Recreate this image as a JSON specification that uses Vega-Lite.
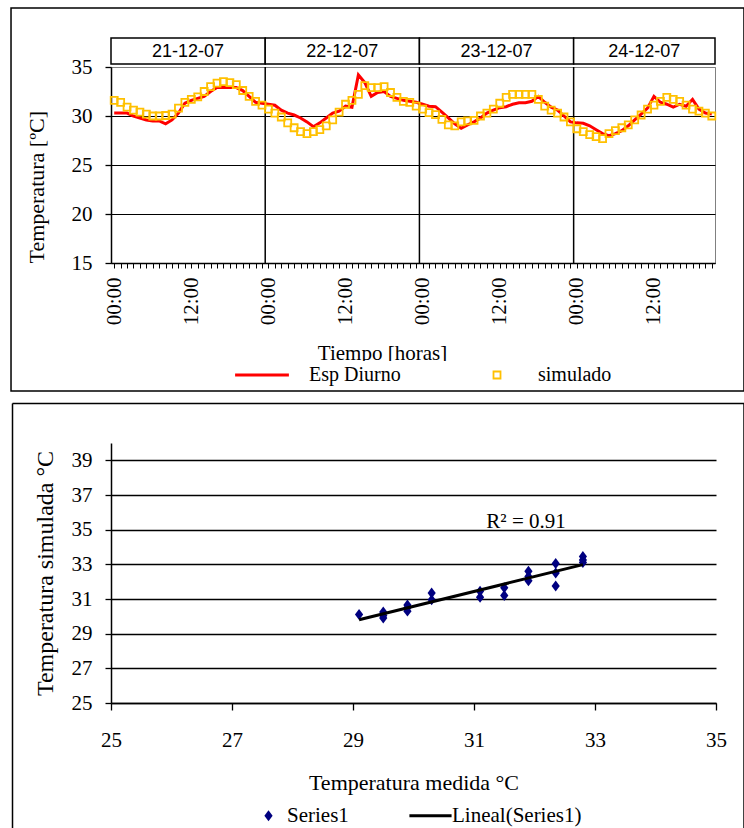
{
  "$schema": "https://vega.github.io/schema/vega-lite/v6.json",
  "padding": {"left": 9, "top": 6, "right": 0, "bottom": 0},
  "background": "white",
  "bounds": "flush",
  "spacing": 180,
  "resolve": {"scale": {"color": "independent", "shape": "independent"}, "legend": {"color": "independent", "shape": "independent"}},
  "datasets": {
    "hourly": [
      {"h":0,"esp":30.3,"simulado":31.6},{"h":1,"esp":30.3,"simulado":31.4},{"h":2,"esp":30.3,"simulado":30.9},{"h":3,"esp":30.0,"simulado":30.6},
      {"h":4,"esp":29.8,"simulado":30.4},{"h":5,"esp":29.6,"simulado":30.2},{"h":6,"esp":29.5,"simulado":30.0},{"h":7,"esp":29.5,"simulado":30.0},
      {"h":8,"esp":29.2,"simulado":30.05},{"h":9,"esp":29.6,"simulado":30.2},{"h":10,"esp":30.3,"simulado":30.8},{"h":11,"esp":31.3,"simulado":31.4},
      {"h":12,"esp":31.6,"simulado":31.7},{"h":13,"esp":31.8,"simulado":31.95},{"h":14,"esp":32.0,"simulado":32.5},{"h":15,"esp":32.5,"simulado":33.0},
      {"h":16,"esp":32.9,"simulado":33.35},{"h":17,"esp":32.9,"simulado":33.5},{"h":18,"esp":32.9,"simulado":33.4},{"h":19,"esp":32.9,"simulado":33.2},
      {"h":20,"esp":32.6,"simulado":32.6},{"h":21,"esp":32.0,"simulado":32.0},{"h":22,"esp":31.4,"simulado":31.5},{"h":23,"esp":31.3,"simulado":31.1},
      {"h":24,"esp":31.2,"simulado":30.7},{"h":25,"esp":31.1,"simulado":30.3},{"h":26,"esp":30.6,"simulado":29.9},{"h":27,"esp":30.3,"simulado":29.3},
      {"h":28,"esp":30.1,"simulado":28.8},{"h":29,"esp":29.8,"simulado":28.4},{"h":30,"esp":29.4,"simulado":28.2},{"h":31,"esp":28.9,"simulado":28.4},
      {"h":32,"esp":29.3,"simulado":28.6},{"h":33,"esp":29.8,"simulado":29.0},{"h":34,"esp":30.3,"simulado":29.6},{"h":35,"esp":30.5,"simulado":30.4},
      {"h":36,"esp":31.0,"simulado":31.2},{"h":37,"esp":30.9,"simulado":31.6},{"h":38,"esp":34.2,"simulado":32.2},{"h":39,"esp":33.4,"simulado":33.1},
      {"h":40,"esp":32.0,"simulado":32.9},{"h":41,"esp":32.4,"simulado":32.9},{"h":42,"esp":32.5,"simulado":33.0},{"h":43,"esp":32.0,"simulado":32.4},
      {"h":44,"esp":31.8,"simulado":31.9},{"h":45,"esp":31.6,"simulado":31.5},{"h":46,"esp":31.5,"simulado":31.4},{"h":47,"esp":31.4,"simulado":31.0},
      {"h":48,"esp":31.2,"simulado":30.7},{"h":49,"esp":31.0,"simulado":30.35},{"h":50,"esp":30.95,"simulado":30.15},{"h":51,"esp":30.4,"simulado":29.65},
      {"h":52,"esp":29.8,"simulado":29.1},{"h":53,"esp":29.2,"simulado":29.0},{"h":54,"esp":28.75,"simulado":29.4},{"h":55,"esp":29.1,"simulado":29.5},
      {"h":56,"esp":29.4,"simulado":29.55},{"h":57,"esp":29.8,"simulado":30.0},{"h":58,"esp":30.3,"simulado":30.3},{"h":59,"esp":30.6,"simulado":30.7},
      {"h":60,"esp":30.85,"simulado":31.3},{"h":61,"esp":30.95,"simulado":31.9},{"h":62,"esp":31.2,"simulado":32.2},{"h":63,"esp":31.35,"simulado":32.2},
      {"h":64,"esp":31.35,"simulado":32.2},{"h":65,"esp":31.5,"simulado":32.2},{"h":66,"esp":32.0,"simulado":31.7},{"h":67,"esp":31.4,"simulado":31.0},
      {"h":68,"esp":30.9,"simulado":30.6},{"h":69,"esp":30.6,"simulado":30.3},{"h":70,"esp":30.0,"simulado":29.9},{"h":71,"esp":29.4,"simulado":29.4},
      {"h":72,"esp":29.3,"simulado":28.7},{"h":73,"esp":29.25,"simulado":28.4},{"h":74,"esp":29.0,"simulado":28.1},{"h":75,"esp":28.6,"simulado":27.9},
      {"h":76,"esp":28.2,"simulado":27.7},{"h":77,"esp":28.0,"simulado":28.2},{"h":78,"esp":28.2,"simulado":28.5},{"h":79,"esp":28.5,"simulado":28.8},
      {"h":80,"esp":29.0,"simulado":29.1},{"h":81,"esp":29.6,"simulado":29.6},{"h":82,"esp":30.2,"simulado":30.1},{"h":83,"esp":30.8,"simulado":30.7},
      {"h":84,"esp":32.0,"simulado":31.1},{"h":85,"esp":31.4,"simulado":31.5},{"h":86,"esp":31.2,"simulado":31.9},{"h":87,"esp":30.9,"simulado":31.7},
      {"h":88,"esp":31.2,"simulado":31.5},{"h":89,"esp":31.0,"simulado":31.1},{"h":90,"esp":31.7,"simulado":30.7},{"h":91,"esp":30.7,"simulado":30.5},
      {"h":92,"esp":30.3,"simulado":30.3},{"h":93,"esp":30.2,"simulado":30.0}
    ],
    "days": [
      {"day":"21-12-07","start":-0.5,"end":23.5,"mid":11.5},
      {"day":"22-12-07","start":23.5,"end":47.5,"mid":35.5},
      {"day":"23-12-07","start":47.5,"end":71.5,"mid":59.5},
      {"day":"24-12-07","start":71.5,"end":93.5,"mid":82.5}
    ],
    "scatter": [
      {"med":29.1,"Series1":30.1},
      {"med":29.5,"Series1":30.25},{"med":29.5,"Series1":29.9},{"med":29.5,"Series1":30.05},
      {"med":29.9,"Series1":30.65},{"med":29.9,"Series1":30.5},{"med":29.9,"Series1":30.3},
      {"med":30.3,"Series1":31.35},{"med":30.3,"Series1":30.95},
      {"med":31.1,"Series1":31.45},{"med":31.1,"Series1":31.1},
      {"med":31.5,"Series1":31.65},{"med":31.5,"Series1":31.2},
      {"med":31.9,"Series1":32.6},{"med":31.9,"Series1":32.3},{"med":31.9,"Series1":32.05},
      {"med":32.35,"Series1":33.05},{"med":32.35,"Series1":32.5},{"med":32.35,"Series1":31.75},
      {"med":32.8,"Series1":33.45},{"med":32.8,"Series1":33.25},{"med":32.8,"Series1":33.1}
    ],
    "one": [{}]
  },
  "vconcat": [
    {
      "width": 604,
      "height": 196,
      "view": {"stroke": "#808080", "strokeWidth": 1},
      "layer": [
        {
          "data": {"name": "one"},
          "mark": {"type": "rect", "filled": false, "stroke": "black", "strokeWidth": 1.5},
          "encoding": {
            "x": {"datum": -16.06, "type": "quantitative", "scale": {"domain": [-0.5, 93.5], "nice": false, "zero": false}},
            "x2": {"datum": 98.01},
            "y": {"datum": 41.02, "type": "quantitative", "scale": {"domain": [15, 35], "nice": false, "zero": false}},
            "y2": {"datum": 1.94}
          }
        },
        {
          "data": {"name": "days"},
          "mark": {"type": "rect", "fill": "white", "stroke": "black", "strokeWidth": 1.5},
          "encoding": {
            "x": {"field": "start", "type": "quantitative"},
            "x2": {"field": "end"},
            "y": {"datum": 35.3, "type": "quantitative"},
            "y2": {"datum": 37.95}
          }
        },
        {
          "data": {"name": "days"},
          "mark": {"type": "text", "font": "Liberation Sans, Arial, DejaVu Sans, sans-serif", "fontSize": 18, "baseline": "middle", "align": "center", "color": "black"},
          "encoding": {
            "x": {"field": "mid", "type": "quantitative"},
            "y": {"datum": 36.5, "type": "quantitative"},
            "text": {"field": "day"}
          }
        },
        {
          "data": {"name": "days"},
          "transform": [{"filter": "datum.start > 0"}],
          "mark": {"type": "rule", "stroke": "black", "strokeWidth": 1.5},
          "encoding": {"x": {"field": "start", "type": "quantitative"}}
        },
        {
          "data": {"name": "hourly"},
          "mark": {"type": "line", "color": "#FF0000", "strokeWidth": 3},
          "encoding": {
            "x": {
              "field": "h", "type": "quantitative",
              "scale": {"domain": [-0.5, 93.5], "nice": false, "zero": false},
              "axis": {
                "title": "Tiempo [horas]",
                "titleX": 271,
                "tickCount": 200,
                "values": [0,1,2,3,4,5,6,7,8,9,10,11,12,13,14,15,16,17,18,19,20,21,22,23,24,25,26,27,28,29,30,31,32,33,34,35,36,37,38,39,40,41,42,43,44,45,46,47,48,49,50,51,52,53,54,55,56,57,58,59,60,61,62,63,64,65,66,67,68,69,70,71,72,73,74,75,76,77,78,79,80,81,82,83,84,85,86,87,88,89,90,91,92,93],
                "labelExpr": "datum.value % 24 == 0 ? '00:00' : (datum.value % 12 == 0 ? '12:00' : '')",
                "labelAngle": 270, "labelAlign": "right", "labelBaseline": "middle",
                "labelFontSize": 21, "labelPadding": 9, "labelOverlap": false, "labelFlush": false,
                "tickSize": 5, "tickWidth": 1, "grid": false,
                "titleFontSize": 21, "titlePadding": 18
              }
            },
            "y": {
              "field": "esp", "type": "quantitative",
              "scale": {"domain": [15, 35], "nice": false, "zero": false},
              "axis": {
                "title": "Temperatura [ºC]",
                "titleAnchor": "start",
                "tickCount": 20,
                "values": [15, 20, 25, 30, 35],
                "grid": true,
                "gridColor": {"condition": {"test": "datum.value == 35", "value": "#808080"}, "value": "black"},
                "gridWidth": 1.2,
                "tickSize": 6, "labelPadding": 13, "labelFontSize": 21,
                "titleFontSize": 22, "titlePadding": 23
              }
            }
          }
        },
        {
          "data": {"name": "hourly"},
          "transform": [{"fold": ["simulado"], "as": ["serie", "t"]}],
          "mark": {"type": "point", "filled": false, "size": 64, "strokeWidth": 1.8, "opacity": 1},
          "encoding": {
            "x": {"field": "h", "type": "quantitative"},
            "y": {"field": "t", "type": "quantitative"},
            "color": {
              "field": "serie", "type": "nominal",
              "scale": {"domain": ["Esp Diurno", "simulado"], "range": ["#FF0000", "#FFC000"]},
              "legend": {"title": null, "orient": "none", "legendX": 111, "legendY": 294, "direction": "horizontal", "columns": 2, "symbolSize": 64, "symbolOffset": 32, "labelOffset": 31, "columnPadding": 54, "labelFontSize": 20, "labelLimit": 0, "fillColor": "white", "padding": 4, "symbolStrokeWidth": 1.8}
            },
            "shape": {
              "field": "serie", "type": "nominal",
              "scale": {"domain": ["Esp Diurno", "simulado"], "range": ["M-8,-0.15H5V0.15H-8Z", "M-0.875,-0.875H0.875V0.875H-0.875Z"]},
              "legend": {"title": null, "orient": "none", "legendX": 111, "legendY": 294, "direction": "horizontal", "columns": 2, "symbolSize": 64, "symbolOffset": 32, "labelOffset": 31, "columnPadding": 54, "labelFontSize": 20, "labelLimit": 0, "fillColor": "white", "padding": 4, "symbolStrokeWidth": 1.8}
            }
          }
        }
      ]
    },
    {
      "width": 605,
      "height": 260,
      "layer": [
        {
          "data": {"name": "one"},
          "mark": {"type": "rule", "stroke": "black", "strokeWidth": 1.5},
          "encoding": {
            "x": {"datum": 23.372, "type": "quantitative", "scale": {"domain": [25, 35], "nice": false, "zero": false}},
            "y": {"datum": 42.28, "type": "quantitative", "scale": {"domain": [25, 40], "nice": false, "zero": false}},
            "y2": {"datum": 17.79}
          }
        },
        {
          "data": {"name": "one"},
          "mark": {"type": "rule", "stroke": "black", "strokeWidth": 1.5},
          "encoding": {
            "x": {"datum": 35.463, "type": "quantitative"},
            "y": {"datum": 42.28, "type": "quantitative"},
            "y2": {"datum": 17.79}
          }
        },
        {
          "data": {"name": "one"},
          "mark": {"type": "rule", "stroke": "black", "strokeWidth": 1.5},
          "encoding": {
            "x": {"datum": 23.372, "type": "quantitative"},
            "x2": {"datum": 35.463},
            "y": {"datum": 42.28, "type": "quantitative"}
          }
        },
        {
          "data": {"name": "scatter"},
          "transform": [{"fold": ["Series1"], "as": ["serie", "sim"]}],
          "mark": {"type": "point", "filled": true, "size": 120, "opacity": 1, "strokeWidth": 0},
          "encoding": {
            "x": {
              "field": "med", "type": "quantitative",
              "scale": {"domain": [25, 35], "nice": false, "zero": false},
              "axis": {
                "title": "Temperatura medida °C",
                "tickCount": 20,
                "format": "d",
                "values": [25, 27, 29, 31, 33, 35],
                "grid": false, "tickSize": 7, "labelPadding": 19, "labelFontSize": 21,
                "labelFlush": false, "titleFontSize": 22, "titlePadding": 22
              }
            },
            "y": {
              "field": "sim", "type": "quantitative",
              "scale": {"domain": [25, 40], "nice": false, "zero": false},
              "axis": {
                "title": "Temperatura simulada °C",
                "tickCount": 20,
                "format": "d",
                "values": [25, 27, 29, 31, 33, 35, 37, 39],
                "grid": true, "gridColor": "black", "gridWidth": 1.3,
                "tickSize": 6, "labelPadding": 13, "labelFontSize": 21,
                "titleFontSize": 24, "titlePadding": 14
              }
            },
            "color": {
              "field": "serie", "type": "nominal",
              "scale": {"domain": ["Series1", "Lineal(Series1)"], "range": ["#000080", "#000000"]},
              "legend": {"title": null, "orient": "none", "legendX": 123, "legendY": 362, "direction": "horizontal", "columns": 2, "symbolSize": 120, "symbolOffset": 24, "labelOffset": 8, "columnPadding": 50, "labelFontSize": 21, "labelLimit": 0, "padding": 0, "symbolStrokeWidth": 0}
            },
            "shape": {
              "field": "serie", "type": "nominal",
              "scale": {"domain": ["Series1", "Lineal(Series1)"], "range": ["M0,-1L0.75,0L0,1L-0.75,0Z", "M-4.4,-0.27H3.3V0.27H-4.4Z"]},
              "legend": {"title": null, "orient": "none", "legendX": 123, "legendY": 362, "direction": "horizontal", "columns": 2, "symbolSize": 120, "symbolOffset": 24, "labelOffset": 8, "columnPadding": 50, "labelFontSize": 21, "labelLimit": 0, "padding": 0, "symbolStrokeWidth": 0}
            }
          }
        },
        {
          "data": {"name": "scatter"},
          "transform": [{"regression": "Series1", "on": "med"}],
          "mark": {"type": "line", "color": "black", "strokeWidth": 3},
          "encoding": {
            "x": {"field": "med", "type": "quantitative"},
            "y": {"field": "Series1", "type": "quantitative"}
          }
        },
        {
          "data": {"name": "one"},
          "mark": {"type": "text", "text": "R² = 0.91", "fontSize": 21, "align": "center", "baseline": "middle", "color": "black"},
          "encoding": {
            "x": {"datum": 31.86, "type": "quantitative"},
            "y": {"datum": 35.44, "type": "quantitative"}
          }
        }
      ]
    }
  ],
  "config": {
    "font": "Times New Roman, Liberation Serif, DejaVu Serif, serif",
    "view": {"stroke": null},
    "axis": {
      "domainColor": "black", "domainWidth": 1.5, "tickColor": "black", "tickWidth": 1.3,
      "labelColor": "black", "titleColor": "black", "titleFontWeight": "normal",
      "labelFont": "Times New Roman, Liberation Serif, DejaVu Serif, serif", "titleFont": "Times New Roman, Liberation Serif, DejaVu Serif, serif"
    },
    "legend": {"labelFont": "Times New Roman, Liberation Serif, DejaVu Serif, serif", "labelColor": "black"},
    "text": {"font": "Times New Roman, Liberation Serif, DejaVu Serif, serif"}
  }
}
